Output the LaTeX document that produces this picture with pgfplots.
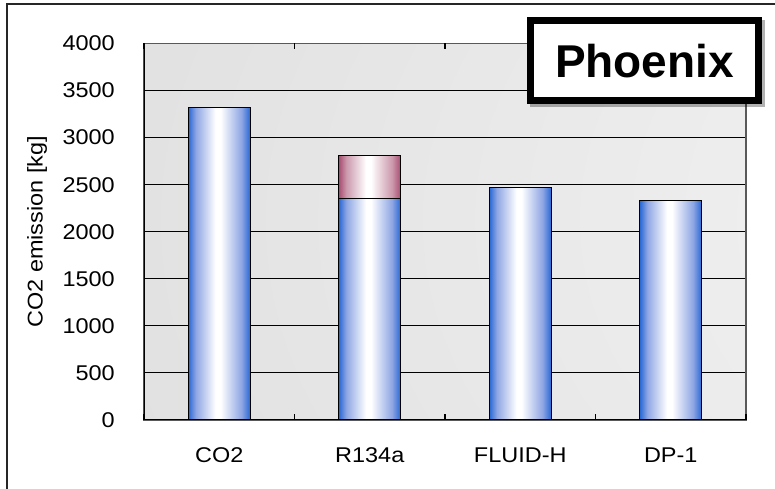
\documentclass[border=0pt]{standalone}
\usepackage{fontspec}
\setmainfont{Liberation Sans}
\newfontfamily\labelfont{Liberation Sans}[FakeStretch=1.1]
\usepackage{pgfplots}
\pgfplotsset{compat=1.18}
\definecolor{bglight}{HTML}{F6F6F6}
\definecolor{bgdark}{HTML}{CBCBCB}
\definecolor{blueedge}{HTML}{2A68D4}
\definecolor{bluemid}{HTML}{8EA6E4}
\definecolor{redge}{HTML}{A84E70}
\definecolor{rmid}{HTML}{CC98AC}
% TikZ maps the path's bounding box onto the central half of a shading
\pgfdeclareradialshading{bgshade}{\pgfpoint{87bp}{2bp}}{color(0bp)=(bglight); color(20bp)=(bglight); color(165bp)=(bgdark); color(300bp)=(bgdark)}
\pgfdeclarehorizontalshading{barblue}{100bp}{color(0bp)=(blueedge); color(25bp)=(blueedge); color(31bp)=(bluemid); color(47bp)=(white); color(51bp)=(white); color(68bp)=(bluemid); color(75bp)=(blueedge); color(100bp)=(blueedge)}
\pgfdeclarehorizontalshading{barred}{100bp}{color(0bp)=(redge); color(25bp)=(redge); color(31bp)=(rmid); color(47bp)=(white); color(51bp)=(white); color(68bp)=(rmid); color(75bp)=(redge); color(100bp)=(redge)}
\pgfplotsset{
  bluebar/.style={bar shift=0pt, draw=black, line width=0.9pt, shade, shading=barblue},
  redbar/.style={bar shift=0pt, draw=black, line width=0.9pt, shade, shading=barred},
}
\begin{document}
\begin{tikzpicture}
\useasboundingbox (0,0) rectangle (581.25pt,366.75pt);
\begin{axis}[
  at={(108pt,51.75pt)}, anchor=south west,
  width=451.5pt, height=282.375pt, scale only axis,
  ybar, bar width=0.41,
  xmin=-0.5, xmax=3.5, ymin=0, ymax=4000,
  xtick={0,1,2,3}, xticklabels={CO2,R134a,FLUID-H,DP-1},
  ytick={0,500,1000,1500,2000,2500,3000,3500,4000},
  yticklabels={0,500,1000,1500,2000,2500,3000,3500,4000},
  major tick length=0pt,
  ymajorgrids, grid style={black, line width=0.8pt},
  axis line style={draw=gray!70!black, line width=0.8pt},
  axis background/.style={shade, shading=bgshade},
  /pgf/number format/assume math mode=true,
  tick label style={font=\labelfont\fontsize{16}{19}\selectfont},
  yticklabel style={inner sep=0pt, anchor=east, xshift=-21.75pt},
  xticklabel style={inner sep=0pt, anchor=base, yshift=-32.25pt},
  ylabel={CO2 emission [kg]},
  ylabel style={at={(axis description cs:-0.1777,0.5)}, anchor=center, font=\labelfont\fontsize{16}{19}\selectfont},
  extra x ticks={-0.5,0.5,1.5,2.5,3.5}, extra x tick labels={},
  extra x tick style={major tick length=4.5pt, tick align=inside, grid=none, tick style={black, line width=0.8pt}},
]
% R134a total (upper part: refrigerant-related)
\addplot[redbar] coordinates {(1,2808)};
% lower parts
\addplot[bluebar] coordinates {(0,3320)};
\addplot[bluebar] coordinates {(1,2355)};
\addplot[bluebar] coordinates {(2,2468)};
\addplot[bluebar] coordinates {(3,2335)};
\draw[black, line width=0.9pt] (rel axis cs:0,1) -- (rel axis cs:0,0) -- (rel axis cs:1,0);
\end{axis}
\draw[line width=1.1pt, black!85] (5.25pt,-5pt) -- (5.25pt,363.75pt) -- (590pt,363.75pt);
\fill[black, opacity=0.3] (397.75pt,286.25pt) rectangle (574pt,351.5pt);
\draw[line width=4.9pt, fill=white] (397.7pt,291.2pt) rectangle (569.05pt,351.55pt);
\node[anchor=base, inner sep=0pt, font=\bfseries\fontsize{34.5}{40}\selectfont] at (483.4pt,308.25pt) {Phoenix};
\end{tikzpicture}
\end{document}
